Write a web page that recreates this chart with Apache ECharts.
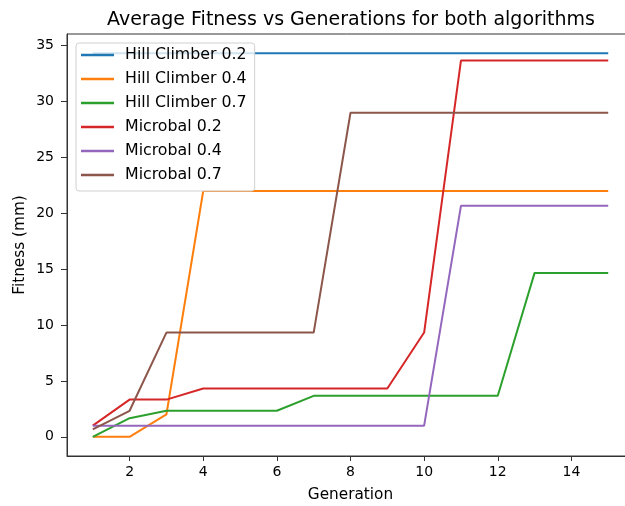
<!DOCTYPE html>
<html>
<head>
<meta charset="utf-8">
<script src="https://cdn.jsdelivr.net/npm/echarts@6/dist/echarts.min.js"></script>
<style>html,body{margin:0;padding:0;background:#fff;}#c{width:625px;height:506px;}</style>
</head>
<body>
<div id="c"></div>
<script>
var generations = [1,2,3,4,5,6,7,8,9,10,11,12,13,14,15];
var seriesNames = ['Hill Climber 0.2','Hill Climber 0.4','Hill Climber 0.7','Microbal 0.2','Microbal 0.4','Microbal 0.7'];
var hillClimber02 = [34.33,34.33,34.33,34.33,34.33,34.33,34.33,34.33,34.33,34.33,34.33,34.33,34.33,34.33,34.33];
var hillClimber04 = [0,0,2,22,22,22,22,22,22,22,22,22,22,22,22];
var hillClimber07 = [0,1.67,2.33,2.33,2.33,2.33,3.67,3.67,3.67,3.67,3.67,3.67,14.67,14.67,14.67];
var microbal02 = [1,3.33,3.33,4.33,4.33,4.33,4.33,4.33,4.33,9.33,33.67,33.67,33.67,33.67,33.67];
var microbal04 = [1,1,1,1,1,1,1,1,1,1,20.67,20.67,20.67,20.67,20.67];
var microbal07 = [0.67,2.33,9.33,9.33,9.33,9.33,9.33,29,29,29,29,29,29,29,29];
var xTicks = [2,4,6,8,10,12,14];
var yTicks = [0,5,10,15,20,25,30,35];
var colors = ['#1f77b4','#ff7f0e','#2ca02c','#d62728','#9467bd','#8c564b'];

var allValues = [hillClimber02,hillClimber04,hillClimber07,microbal02,microbal04,microbal07];
var font = 'DejaVu Sans';
var chart = echarts.init(document.getElementById('c'));
var series = allValues.map(function(vals, i){
  return {
    name: seriesNames[i],
    type: 'line',
    symbol: 'none',
    animation: false,
    data: generations.map(function(g, j){ return [g, vals[j]]; }),
    lineStyle: {color: colors[i], width: 2},
    itemStyle: {color: colors[i]}
  };
});
chart.setOption({
  animation: false,
  title: {
    text: 'Average Fitness vs Generations for both algorithms',
    left: 346, top: 6, textAlign: 'center',
    textStyle: {fontFamily: font, fontSize: 19, fontWeight: 'normal', color: '#000'}
  },
  legend: {
    orient: 'vertical', left: 76, top: 43,
    icon: 'rect',
    itemWidth: 33, itemHeight: 2.5, itemGap: 8,
    padding: [4, 8, 8, 5],
    backgroundColor: 'rgba(255,255,255,0.8)',
    borderColor: '#d0d0d0', borderWidth: 1, borderRadius: 3,
    textStyle: {fontFamily: font, fontSize: 15.8, color: '#000', padding: [0, 0, 0, 6]},
    data: seriesNames
  },
  grid: {left: 67, top: 34, right: -9, bottom: 50, outerBoundsMode: 'none', show: true, borderColor: '#333', borderWidth: 1, containLabel: false},
  xAxis: {
    type: 'value', min: 0.3, max: 15.7,
    name: 'Generation', nameLocation: 'middle', nameGap: 32,
    nameTextStyle: {fontFamily: font, fontSize: 15.3, color: '#000'},
    axisLine: {show: true, onZero: false, lineStyle: {color: '#333', width: 1}},
    axisTick: {show: true, length: 5, lineStyle: {color: '#333'}, customValues: xTicks},
    axisLabel: {fontFamily: font, fontSize: 14, color: '#000', margin: 9, customValues: xTicks},
    splitLine: {show: false}
  },
  yAxis: {
    type: 'value', min: -1.717, max: 36.05,
    name: 'Fitness (mm)', nameLocation: 'middle', nameGap: 39, nameMoveOverlap: false,
    nameTextStyle: {fontFamily: font, fontSize: 15.3, color: '#000'},
    axisLine: {show: true, onZero: false, lineStyle: {color: '#333', width: 1}},
    axisTick: {show: true, length: 6, lineStyle: {color: '#333'}, customValues: yTicks},
    axisLabel: {fontFamily: font, fontSize: 14, color: '#000', margin: 13, customValues: yTicks},
    splitLine: {show: false}
  },
  series: series
});
</script>
</body>
</html>
